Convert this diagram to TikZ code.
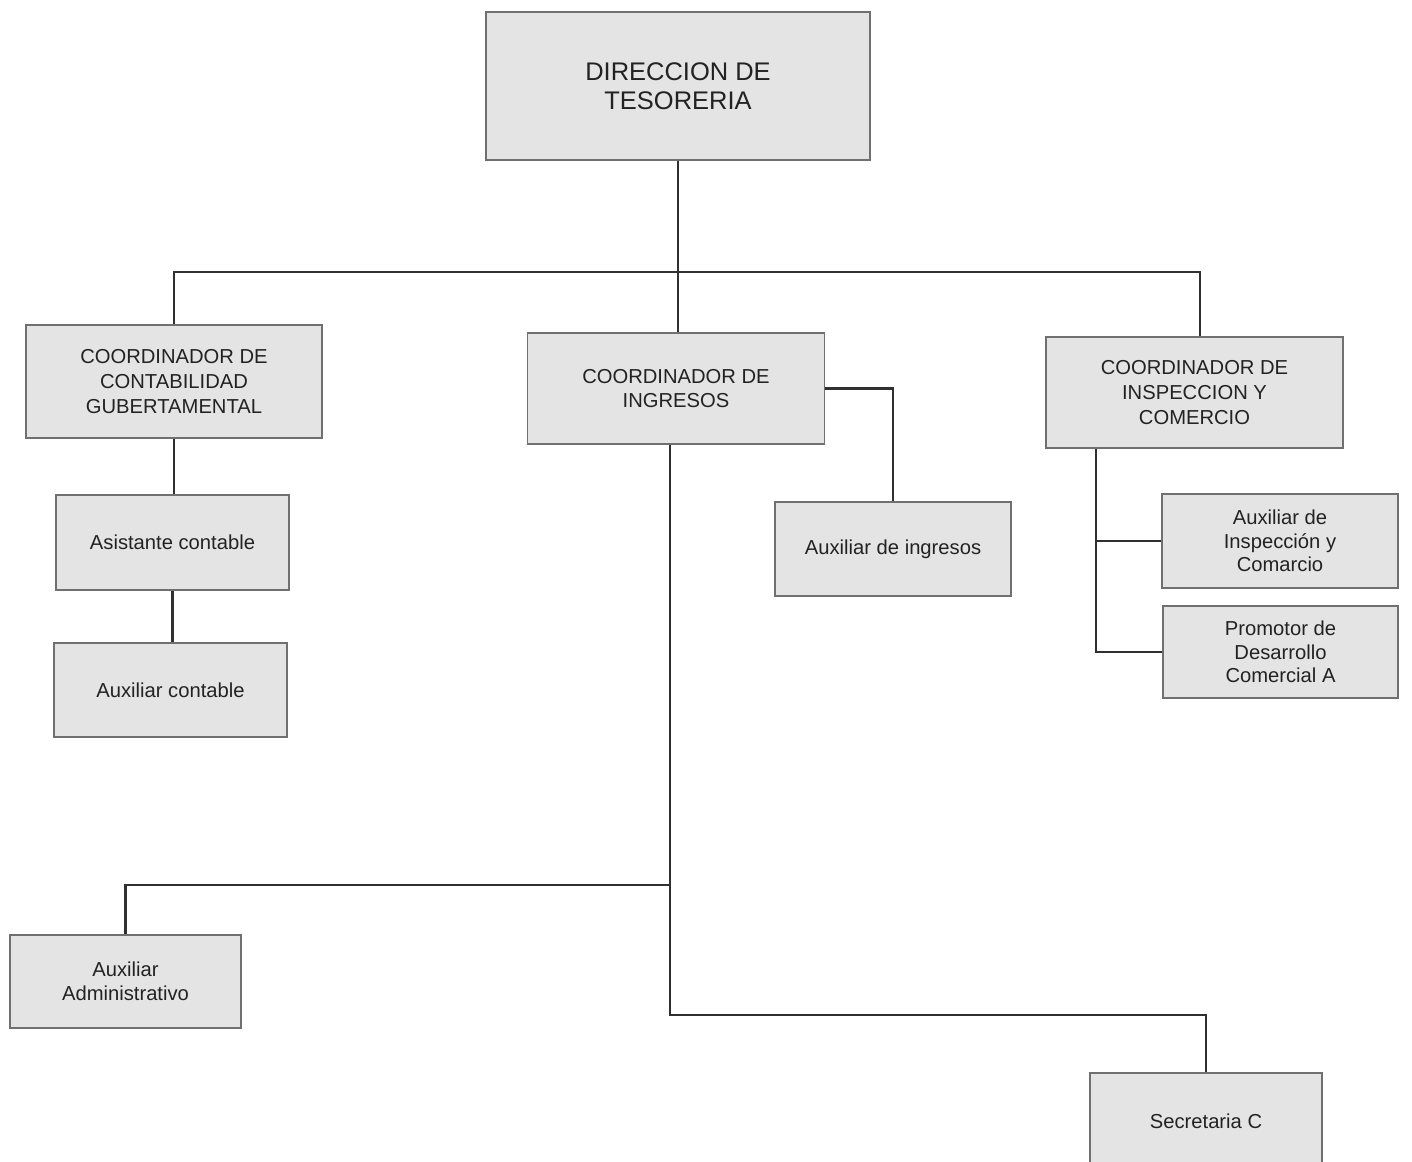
\documentclass[tikz,border=0pt]{standalone}
\usepackage{fontspec}
\setmainfont{Liberation Sans}
\definecolor{boxfill}{HTML}{E4E4E4}
\definecolor{boxline}{HTML}{707070}
\definecolor{lineclr}{HTML}{303030}
\definecolor{txt}{HTML}{222222}
\begin{document}
\begin{tikzpicture}[x=0.02cm,y=-0.02cm,
  box/.style={draw=boxline, fill=boxfill, line width=0.9pt, align=center, text=txt, inner sep=0pt},
  titlebox/.style={box, font=\fontsize{14.5}{16.5}\selectfont},
  coordbox/.style={box, font=\fontsize{11.5}{14}\selectfont},
  subbox/.style={box, font=\fontsize{11.5}{13.5}\selectfont},
  conn/.style={draw=lineclr, line width=1.4pt}]
\useasboundingbox (0,0) rectangle (1412,1162);
\clip (0,0) rectangle (1412,1162);
\fill[white] (0,0) rectangle (1412,1162);

% nodes
\node[titlebox, minimum width=7.68cm, minimum height=2.96cm] (dir) at (678,86) {DIRECCION DE\\TESORERIA};
\node[coordbox, minimum width=5.92cm, minimum height=2.26cm] (cont) at (174,381.5) {COORDINADOR DE\\CONTABILIDAD\\GUBERTAMENTAL};
\node[coordbox, minimum width=5.94cm, minimum height=2.22cm] (ing) at (676,388.5) {COORDINADOR DE\\INGRESOS};
\node[coordbox, minimum width=5.94cm, minimum height=2.22cm] (insp) at (1194.5,392.5) {COORDINADOR DE\\INSPECCION Y\\COMERCIO};
\node[subbox, minimum width=4.66cm, minimum height=1.9cm] (asis) at (172.5,542.5) {Asistante contable};
\node[subbox, minimum width=4.66cm, minimum height=1.88cm] (auxc) at (170.5,690) {Auxiliar contable};
\node[subbox, minimum width=4.72cm, minimum height=1.88cm] (auxi) at (893,549) {Auxiliar de ingresos};
\node[subbox, minimum width=4.72cm, minimum height=1.88cm] (auxinsp) at (1280,541) {Auxiliar de\\Inspección y\\Comarcio};
\node[subbox, minimum width=4.7cm, minimum height=1.84cm] (prom) at (1280.5,652) {Promotor de\\Desarrollo\\Comercial A};
\node[subbox, minimum width=4.62cm, minimum height=1.86cm] (adm) at (125.5,981.5) {Auxiliar\\Administrativo};
\node[subbox, minimum width=4.64cm, minimum height=2.4cm] (sec) at (1206,1133) {};
\node[subbox, draw=none, fill=none] (secT) at (1206,1121) {Secretaria C};

% helper coordinates
\coordinate (bus) at (0,272);
\coordinate (busR) at (1200,272);
\coordinate (tI) at (1096,0);
\coordinate (tG) at (670,0);
\coordinate (brA) at (0,885);
\coordinate (brS) at (0,1015);

% connectors
\draw[conn] (dir.south) -- (dir.south |- ing.north);
\draw[conn] (cont.north) -- (cont.north |- bus) -- (busR) -- (busR |- insp.north);
\draw[conn] (cont.south) -- (cont.south |- asis.north);
\draw[conn] (asis.south) -- (asis.south |- auxc.north);
\draw[conn] (ing.east) -| (auxi.north);
\draw[conn] (insp.south -| tI) |- (prom.west);
\draw[conn] (auxinsp.west) -- (auxinsp.west -| tI);
\draw[conn] (ing.south -| tG) |- (brS -| sec.north) -- (sec.north);
\draw[conn] (tG |- brA) -| (adm.north);
\end{tikzpicture}
\end{document}
